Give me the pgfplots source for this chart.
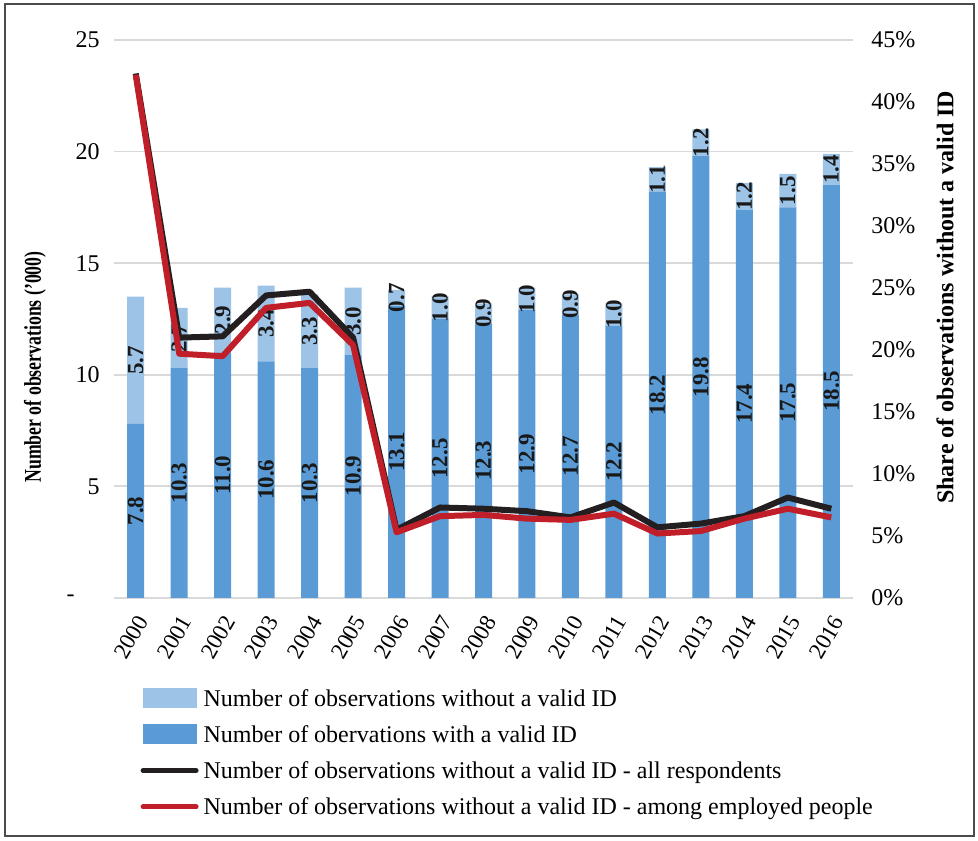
\documentclass[border=0pt]{standalone}
\usepackage{pgfplots}
\pgfplotsset{compat=1.18}
\usepackage{pgfplotstable}
\usepackage{graphicx}
\usepackage{fontspec}
\setmainfont{Liberation Serif}
\definecolor{darkbar}{RGB}{91,155,213}
\definecolor{lightbar}{RGB}{157,195,230}
\definecolor{redline}{RGB}{192,30,40}
\definecolor{blackline}{RGB}{35,31,32}
\definecolor{gridgray}{RGB}{217,217,217}

\pgfplotstableread{
x valid without
0 7.8 5.7
1 10.3 2.7
2 11.0 2.9
3 10.6 3.4
4 10.3 3.3
5 10.9 3.0
6 13.1 0.7
7 12.5 1.0
8 12.3 0.9
9 12.9 1.0
10 12.7 0.9
11 12.2 1.0
12 18.2 1.1
13 19.8 1.2
14 17.4 1.2
15 17.5 1.5
16 18.5 1.4
}\bars

\pgfplotstableread{
x ypos lab
0 3.9 7.8
1 5.15 10.3
2 5.5 11.0
3 5.3 10.6
4 5.15 10.3
5 5.45 10.9
6 6.55 13.1
7 6.25 12.5
8 6.15 12.3
9 6.45 12.9
10 6.35 12.7
11 6.1 12.2
12 9.1 18.2
13 9.9 19.8
14 8.7 17.4
15 8.75 17.5
16 9.25 18.5
}\lowlabels

\pgfplotstableread{
x ypos lab
0 10.65 5.7
1 11.65 2.7
2 12.45 2.9
3 12.3 3.4
4 11.95 3.3
5 12.4 3.0
6 13.45 0.7
7 13.0 1.0
8 12.75 0.9
9 13.4 1.0
10 13.15 0.9
11 12.7 1.0
12 18.75 1.1
13 20.4 1.2
14 18.0 1.2
15 18.25 1.5
16 19.2 1.4
}\toplabels

\pgfplotstableread{
x all emp
0 42.3 42.2
1 21.0 19.7
2 21.1 19.5
3 24.4 23.4
4 24.7 23.8
5 21.0 20.4
6 5.5 5.3
7 7.3 6.6
8 7.2 6.7
9 7.0 6.4
10 6.5 6.3
11 7.7 6.8
12 5.7 5.2
13 6.0 5.4
14 6.6 6.4
15 8.1 7.2
16 7.2 6.5
}\shares

\pgfplotsset{
  base/.style={
    scale only axis, width=369.5pt, height=279pt,
    xmin=-0.5, xmax=16.5,
    at={(57pt,121pt)}, anchor=south west,
    axis line style={draw=none}, tick style={draw=none},
    /pgf/number format/assume math mode=true,
  },
  lbl/.style={draw=none, mark=none, nodes near coords, point meta=explicit symbolic,
    every node near coord/.append style={rotate=90, anchor=center, inner sep=0pt,
      font=\bfseries\fontsize{11.5}{12}\selectfont, text=black!90}},
}

\begin{document}
\begin{tikzpicture}
\useasboundingbox (0,0) rectangle (489pt,420pt);
% bars
\begin{axis}[base, ybar stacked, bar width=8.5pt,
  ymin=0, ymax=25, ytick={0,5,...,25},
  yticklabels={\makebox[16.5pt][l]{-},5,10,15,20,25},
  yticklabel style={anchor=east, inner sep=0pt, xshift=-7pt, font=\fontsize{12}{14}\selectfont},
  ymajorgrids, grid style={gridgray, line width=0.9pt},
  xtick={0,...,16},
  xticklabels={2000,2001,2002,2003,2004,2005,2006,2007,2008,2009,2010,2011,2012,2013,2014,2015,2016},
  xticklabel style={xshift=3.5pt, yshift=-9.5pt, rotate=60, anchor=east, inner sep=0pt, font=\fontsize{11.5}{13}\selectfont},
  ylabel={\fontsize{12}{14}\selectfont\bfseries\scalebox{0.74}[1]{Number of observations ('000)}},
  ylabel style={at={(axis description cs:-0.107,0.414)}, anchor=center},
]
\addplot[fill=darkbar, draw=none] table[x=x, y=valid] {\bars};
\addplot[fill=lightbar, draw=none] table[x=x, y=without] {\bars};
\end{axis}
% labels
\begin{axis}[base, ymin=0, ymax=25, xtick=\empty, ytick=\empty]
\addplot[lbl] table[x=x, y=ypos, meta=lab] {\lowlabels};
\addplot[lbl] table[x=x, y=ypos, meta=lab] {\toplabels};
\end{axis}
% lines
\begin{axis}[base, ymin=0, ymax=45, ytick={0,5,...,45},
  yticklabels={0\%,5\%,10\%,15\%,20\%,25\%,30\%,35\%,40\%,45\%},
  yticklabel pos=right,
  yticklabel style={anchor=west, inner sep=0pt, xshift=9pt, font=\fontsize{12}{14}\selectfont},
  xtick=\empty,
  ylabel={\bfseries Share of observations without a valid ID},
  ylabel style={at={(axis description cs:1.1245,0.539)}, anchor=center, rotate=0, font=\fontsize{12}{14}\selectfont},
  legend cell align=left,
  legend style={at={(axis description cs:0.036,-0.1542)}, anchor=north west, draw=none, fill=none,
    inner sep=0pt, outer sep=0pt, row sep=4.15pt, column sep=2.5pt,
    font=\fontsize{12}{14}\selectfont,
    nodes={inner sep=0pt, text height=11pt, text depth=3pt}},
]
\addlegendimage{legend image code/.code={\fill[lightbar] (0pt,-4.75pt) rectangle (26.5pt,4.75pt);}}
\addlegendentry{Number of observations without a valid ID}
\addlegendimage{legend image code/.code={\fill[darkbar] (0pt,-4.75pt) rectangle (26.5pt,4.75pt);}}
\addlegendentry{Number of obervations with a valid ID}
\addplot[blackline, line width=3pt, line join=round, mark=none,
  legend image code/.code={\draw[blackline, line width=2.5pt, line cap=round] (0pt,0pt) -- (26.5pt,0pt);}]
  table[x=x, y=all] {\shares};
\addlegendentry{Number of observations without a valid ID - all respondents}
\addplot[redline, line width=3pt, line join=round, mark=none,
  legend image code/.code={\draw[redline, line width=2.5pt, line cap=round] (0pt,0pt) -- (26.5pt,0pt);}]
  table[x=x, y=emp] {\shares};
\addlegendentry{Number of observations without a valid ID - among employed people}
\end{axis}
\draw[black!70, line width=0.75pt] (2.5pt,2pt) rectangle (487pt,418pt);
\end{tikzpicture}
\end{document}
